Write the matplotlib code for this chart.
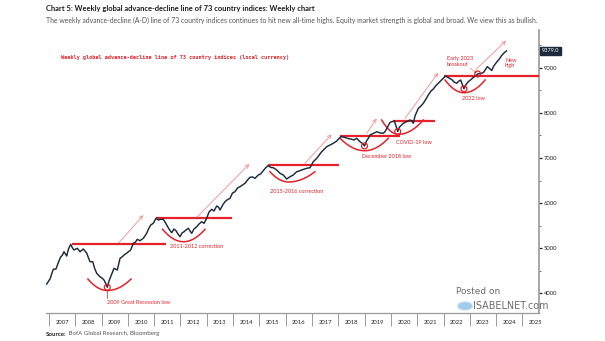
import matplotlib
matplotlib.use("Agg")
import matplotlib.pyplot as plt
import numpy as np

# Weekly global advance-decline line (decimal year, index level)
dates = [
    2006.913, 2007.038, 2007.163, 2007.266, 2007.361, 2007.445, 2007.513, 2007.570, 2007.673, 2007.741,
    2007.825, 2007.894, 2007.951, 2008.076, 2008.179, 2008.304, 2008.433, 2008.502, 2008.559, 2008.662,
    2008.730, 2008.814, 2008.939, 2009.015, 2009.091, 2009.148, 2009.217, 2009.281, 2009.346, 2009.471,
    2009.597, 2009.700, 2009.776, 2009.852, 2009.977, 2010.106, 2010.205, 2010.289, 2010.357, 2010.460,
    2010.586, 2010.715, 2010.783, 2010.867, 2010.966, 2011.068, 2011.163, 2011.247, 2011.346, 2011.411,
    2011.475, 2011.563, 2011.665, 2011.753, 2011.829, 2011.905, 2011.981, 2012.057, 2012.133, 2012.209,
    2012.297, 2012.361, 2012.426, 2012.513, 2012.616, 2012.703, 2012.806, 2012.894, 2012.996, 2013.084,
    2013.186, 2013.274, 2013.376, 2013.445, 2013.502, 2013.605, 2013.692, 2013.768, 2013.882, 2013.977,
    2014.072, 2014.167, 2014.262, 2014.357, 2014.452, 2014.548, 2014.643, 2014.738, 2014.833, 2014.958,
    2015.042, 2015.148, 2015.232, 2015.327, 2015.441, 2015.529, 2015.658, 2015.783, 2015.909, 2016.038,
    2016.163, 2016.289, 2016.418, 2016.506, 2016.608, 2016.798, 2016.924, 2017.049, 2017.179, 2017.369,
    2017.559, 2017.684, 2017.810, 2017.939, 2018.103, 2018.255, 2018.369, 2018.510, 2018.597, 2018.700,
    2018.825, 2018.920, 2018.996, 2019.072, 2019.141, 2019.205, 2019.281, 2019.395, 2019.471, 2019.586,
    2019.711, 2019.776, 2019.871, 2019.966, 2020.042, 2020.129, 2020.194, 2020.259, 2020.327, 2020.403,
    2020.471, 2020.601, 2020.726, 2020.802, 2020.852, 2020.916, 2021.042, 2021.144, 2021.232, 2021.335,
    2021.422, 2021.525, 2021.612, 2021.715, 2021.802, 2021.905, 2021.992, 2022.076, 2022.171, 2022.312,
    2022.399, 2022.502, 2022.589, 2022.654, 2022.722, 2022.779, 2022.856, 2022.943, 2023.046, 2023.133,
    2023.217, 2023.300, 2023.407, 2023.513, 2023.597, 2023.665, 2023.749, 2023.833, 2023.901, 2024.023,
    2024.110, 2024.213, 2024.300, 2024.395,
]
ad_line = [
    4200, 4311, 4527, 4533, 4689, 4800, 4844, 4918, 4822, 4978,
    5082, 5000, 4956, 4993, 4918, 4978, 4889, 4778, 4696, 4696,
    4556, 4438, 4362, 4333, 4289, 4222, 4127, 4267, 4362, 4549,
    4511, 4771, 4800, 4844, 4896, 4956, 5104, 5133, 5193, 5162,
    5216, 5327, 5422, 5511, 5549, 5660, 5622, 5638, 5638, 5578,
    5511, 5422, 5340, 5422, 5384, 5311, 5251, 5333, 5362, 5400,
    5438, 5378, 5327, 5422, 5473, 5533, 5584, 5549, 5660, 5800,
    5860, 5822, 5933, 5911, 5844, 5956, 6029, 6067, 6104, 6222,
    6251, 6333, 6362, 6400, 6438, 6511, 6571, 6578, 6549, 6622,
    6644, 6718, 6778, 6829, 6789, 6784, 6733, 6660, 6622, 6533,
    6584, 6622, 6696, 6711, 6733, 6771, 6784, 6918, 6993, 7140,
    7251, 7289, 7327, 7378, 7478, 7456, 7433, 7416, 7400, 7438,
    7362, 7322, 7267, 7378, 7438, 7511, 7533, 7562, 7584, 7556,
    7549, 7584, 7689, 7789, 7807, 7822, 7711, 7589, 7689, 7733,
    7771, 7807, 7844, 7822, 7771, 7933, 8104, 8156, 8216, 8311,
    8400, 8489, 8533, 8611, 8660, 8722, 8771, 8822, 8789, 8744,
    8689, 8660, 8711, 8733, 8622, 8538, 8633, 8696, 8744, 8789,
    8822, 8867, 8878, 8896, 8967, 9029, 8989, 8944, 9033, 9133,
    9189, 9278, 9333, 9379,
]

years = list(range(2007, 2026))
y_ticks = [4000, 5000, 6000, 7000, 8000, 9000]

# Resistance levels: (start, end, level)
resistance = [
    (2007.86, 2011.44, 5082),
    (2011.06, 2013.95, 5660),
    (2015.33, 2018.01, 6840),
    (2018.07, 2020.35, 7478),
    (2020.08, 2021.68, 7833),
    (2022.02, 2025.70, 8829),
]
# Bowl shapes under each correction: (left, centre, right, rim level, bottom level)
bowls = [
    (2008.48, 2009.22, 2010.12, 4311, 4056),
    (2011.32, 2012.11, 2012.93, 5416, 5140),
    (2015.40, 2016.11, 2017.11, 6696, 6467),
    (2018.07, 2019.00, 2019.90, 7438, 7162),
    (2019.65, 2020.29, 2021.23, 7844, 7527),
    (2022.06, 2022.78, 2023.58, 8733, 8451),
]
# Circled lows / breakout
marked_dates = [2009.217, 2018.996, 2020.259, 2022.779, 2023.300]
marked_vals = [4127, 7267, 7589, 8538, 8867]
# Trend arrows: (x0, y0, x1, y1)
trend_arrows = [
    (2009.64, 5104, 2010.59, 5733),
    (2012.62, 5682, 2014.62, 6867),
    (2016.73, 6882, 2017.75, 7527),
    (2019.08, 7549, 2019.46, 7882),
    (2020.54, 7882, 2021.80, 8896),
    (2023.24, 8971, 2024.38, 9607),
]
notes = [
    ("2009 Great Recession low", 2009.20, 3800),
    ("2011-2012 correction", 2011.60, 5029),
    ("2015-2016 correction", 2015.40, 6251),
    ("December 2018 low", 2018.89, 7029),
    ("COVID-19 low", 2020.18, 7340),
    ("2022 low", 2022.69, 8311),
    ("Early 2023\nbreakout", 2022.12, 9140),
    ("New\nhigh", 2024.34, 9111),
]

RED = "#e5222a"
ARROW = "#f29a9a"
NAVY = "#1c2b3c"
GREY = "#9a9a9a"

plt.rcParams["font.family"] = ["Lato", "DejaVu Sans"]

fig = plt.figure(figsize=(6.05, 3.41), dpi=100)
ax = fig.add_axes([46 / 605, 1 - 313 / 341, 493 / 605, 283 / 341])
ax.set_xlim(2006.886, 2025.631)
ax.set_ylim(3556, 9844)

ax.plot(dates, ad_line, color=NAVY, lw=1.05, zorder=5)

for x0, x1, lvl in resistance:
    ax.plot([x0, x1], [lvl, lvl], color=RED, lw=1.6, solid_capstyle="butt", zorder=4)

for xl, xc, xr, rim, bot in bowls:
    left = np.linspace(xl, xc, 30)
    right = np.linspace(xc, xr, 30)
    yl = bot + (rim - bot) * ((left - xc) / (xl - xc)) ** 2
    yr = bot + (rim - bot) * ((right - xc) / (xr - xc)) ** 2
    ax.plot(np.r_[left, right], np.r_[yl, yr], color=RED, lw=1.1, zorder=3)

ax.scatter(marked_dates, marked_vals, s=18, facecolors="none", edgecolors=RED,
           linewidths=0.9, zorder=6)
ax.plot([2009.217, 2009.217], [4056, 3900], color=RED, lw=0.5, zorder=3)

for x0, y0, x1, y1 in trend_arrows:
    ax.annotate("", xy=(x1, y1), xytext=(x0, y0),
                arrowprops=dict(arrowstyle="->", color=ARROW, lw=0.7,
                                shrinkA=0, shrinkB=0, mutation_scale=6))
ax.annotate("", xy=(2023.28, 8882), xytext=(2023.01, 8993),
            arrowprops=dict(arrowstyle="->", color=ARROW, lw=0.6,
                            shrinkA=0, shrinkB=0, mutation_scale=4))

for txt, x, y in notes:
    ax.text(x, y, txt, color=RED, fontsize=4.0, ha="left", va="center",
            linespacing=1.1, zorder=7)

ax.text(2007.445, 9238, "Weekly global advance-decline line of 73 country indices (local currency)",
        color=RED, fontsize=3.75, fontweight="bold", ha="left", va="center",
        family=["DejaVu Sans Mono", "DejaVu Sans"])

# Axes styling
for side in ("left", "top"):
    ax.spines[side].set_visible(False)
ax.spines["right"].set_color(GREY)
ax.spines["right"].set_linewidth(1.2)
ax.spines["bottom"].set_color(GREY)
ax.spines["bottom"].set_linewidth(0.9)

ax.yaxis.tick_right()
ax.set_yticks(y_ticks)
ax.set_yticklabels([str(v) for v in y_ticks])
ax.set_yticks([4500, 5500, 6500, 7500, 8500, 9500], minor=True)
ax.tick_params(axis="y", which="major", direction="out", length=2, width=0.9,
               color="#222222", labelsize=4.2, pad=1.5, labelcolor="#222222")
ax.tick_params(axis="y", which="minor", direction="out", length=1.5, width=0.6,
               color="#555555")

ax.set_xticks(years)
ax.set_xticklabels([""] * len(years))
ax.set_xticks([y + 0.5 for y in years], minor=True)
ax.set_xticklabels([str(y) for y in years], minor=True)
ax.tick_params(axis="x", which="major", direction="out", length=9.5, width=0.7,
               color=GREY)
ax.tick_params(axis="x", which="minor", length=0, labelsize=4.2, pad=5,
               labelcolor="#222222")

# End-value tag
ax.annotate(f"{ad_line[-1]:.1f}", xy=(1.0, ad_line[-1]), xycoords=("axes fraction", "data"),
            xytext=(2, 0), textcoords="offset points", fontsize=4.0, color="white",
            ha="left", va="center", annotation_clip=False,
            bbox=dict(boxstyle="square,pad=0.25", fc=NAVY, ec=NAVY))

# Headings and footer
fig.text(46 / 605, 1 - 8 / 341, "Chart 5: Weekly global advance-decline line of 73 country indices: Weekly chart",
         fontsize=5.4, fontweight="bold", color="#1a1a1a", ha="left", va="center")
fig.text(46 / 605, 1 - 20 / 341,
         "The weekly advance-decline (A-D) line of 73 country indices continues to hit new all-time highs. "
         "Equity market strength is global and broad. We view this as bullish.",
         fontsize=4.95, color="#555555", ha="left", va="center")
src = fig.text(46 / 605, 1 - 334 / 341, "Source:", fontsize=4.4, fontweight="bold",
               color="#1a1a1a", ha="left", va="center")
fig.canvas.draw()
ax.annotate(" BofA Global Research, Bloomberg", xy=(1, 0.5), xycoords=src,
            fontsize=4.4, color="#555555", ha="left", va="center", annotation_clip=False)

# Watermark
fig.text(456 / 605, 1 - 292 / 341, "Posted on", fontsize=6.5, color="#6b6b6b",
         ha="left", va="center", family=["DejaVu Sans"])
fig.text(473 / 605, 1 - 306 / 341, "ISABELNET.com", fontsize=6.9, color="#6b6b6b",
         ha="left", va="center", family=["DejaVu Sans"])
fig.patches.append(matplotlib.patches.Circle((465 / 605, 1 - 306 / 341), 0.012,
                                             transform=fig.transFigure, fc="#8fc3ea",
                                             ec="#c9d8e6", lw=0.8, alpha=0.85))

fig.savefig("out.png", dpi=100)
